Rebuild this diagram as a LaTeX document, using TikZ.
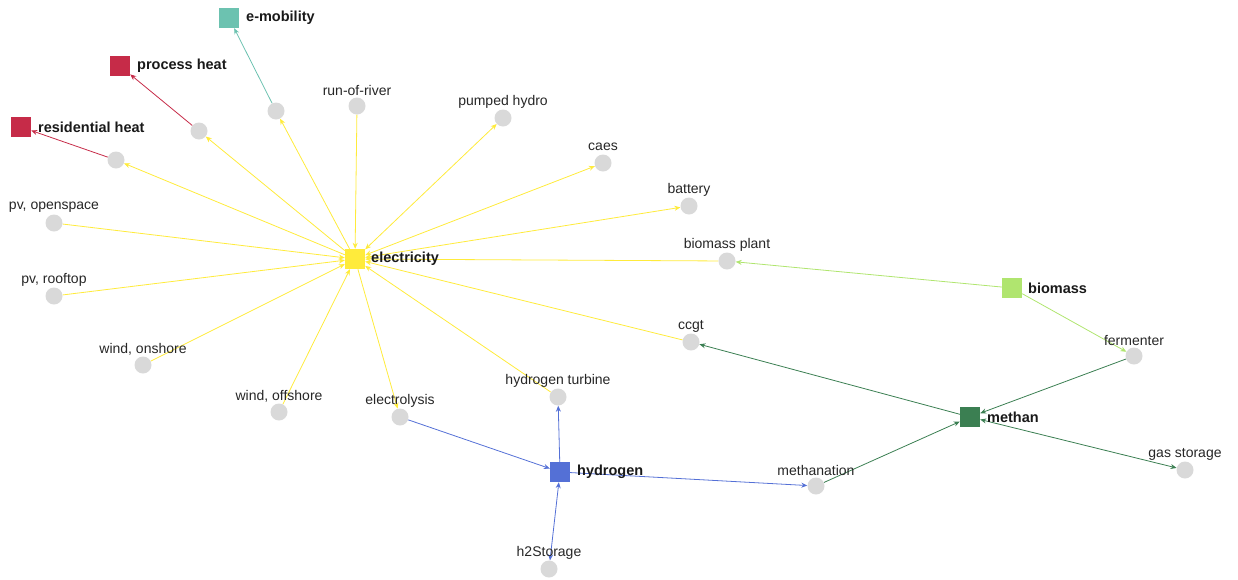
\documentclass[tikz,border=0pt]{standalone}
\usepackage{fontspec}
\setmainfont{Liberation Sans}
\usetikzlibrary{arrows.meta,backgrounds}
\definecolor{cyel}{HTML}{FFEB3B}
\definecolor{cred}{HTML}{C62B48}
\definecolor{cteal}{HTML}{6CC2B0}
\definecolor{clgreen}{HTML}{B0E56F}
\definecolor{cdgreen}{HTML}{3B7F52}
\definecolor{cblue}{HTML}{5470D6}
\definecolor{cgray}{HTML}{D9D9D9}
\tikzset{
  proc/.style={circle, fill=cgray, minimum size=17pt, inner sep=0pt},
  bus/.style={rectangle, minimum size=20pt, inner sep=0pt},
  lbl/.style={font=\fontsize{14}{14}\selectfont, text=black!85, inner sep=0pt},
  blbl/.style={font=\fontsize{14.5}{14.5}\selectfont\bfseries, text=black!90, anchor=west, inner sep=0pt},
  flow/.style={line width=0.8pt, -{Stealth[length=6pt,width=5pt]}},
  bflow/.style={line width=0.8pt, {Stealth[length=6pt,width=5pt]}-{Stealth[length=6pt,width=5pt]}},
}
\begin{document}
\begin{tikzpicture}[x=1pt,y=-1pt]
\useasboundingbox (0,0) rectangle (1238,579);

% buses
\node[bus, fill=cyel] (el) at (355,259) {};
\node[blbl] (el-l) at (371,259) {electricity};
\node[bus, fill=cteal] (emob) at (229,18) {};
\node[blbl] (emob-l) at (246,18) {e-mobility};
\node[bus, fill=cred] (ph) at (120,66) {};
\node[blbl] (ph-l) at (137,66) {process heat};
\node[bus, fill=cred] (rh) at (21,127) {};
\node[blbl] (rh-l) at (38,127) {residential heat};
\node[bus, fill=clgreen] (bio) at (1012,288) {};
\node[blbl] (bio-l) at (1028,288) {biomass};
\node[bus, fill=cdgreen] (meth) at (970,417) {};
\node[blbl] (meth-l) at (987,417) {methan};
\node[bus, fill=cblue] (h2) at (560,472) {};
\node[blbl] (h2-l) at (577,472) {hydrogen};

% components
\node[proc] (emobn) at (276,111) {};
\node[proc] (phn) at (199,131) {};
\node[proc] (rhn) at (116,160) {};
\node[proc] (ror) at (357,106) {};
\node[lbl] (ror-l) at (357,90) {run-of-river};
\node[proc] (phy) at (503,118) {};
\node[lbl] (phy-l) at (503,102) {pumped hydro};
\node[proc] (caes) at (603,163) {};
\node[lbl] (caes-l) at (603,147) {caes};
\node[proc] (bat) at (689,206) {};
\node[lbl] (bat-l) at (689,190) {battery};
\node[proc] (bp) at (727,261) {};
\node[lbl] (bp-l) at (727,245) {biomass plant};
\node[proc] (pvo) at (54,223) {};
\node[lbl] (pvo-l) at (54,207) {pv, openspace};
\node[proc] (pvr) at (54,296) {};
\node[lbl] (pvr-l) at (54,280) {pv, rooftop};
\node[proc] (won) at (143,365) {};
\node[lbl] (won-l) at (143,349) {wind, onshore};
\node[proc] (wof) at (279,412) {};
\node[lbl] (wof-l) at (279,396) {wind, offshore};
\node[proc] (ely) at (400,417) {};
\node[lbl] (ely-l) at (400,401) {electrolysis};
\node[proc] (h2t) at (558,397) {};
\node[lbl] (h2t-l) at (558,381) {hydrogen turbine};
\node[proc] (ccgt) at (691,342) {};
\node[lbl] (ccgt-l) at (691,326) {ccgt};
\node[proc] (ferm) at (1134,356) {};
\node[lbl] (ferm-l) at (1134,340) {fermenter};
\node[proc] (gas) at (1185,470) {};
\node[lbl] (gas-l) at (1185,454) {gas storage};
\node[proc] (mthn) at (816,486) {};
\node[lbl] (mthn-l) at (816,470) {methanation};
\node[proc] (h2s) at (549,569) {};
\node[lbl] (h2s-l) at (549,553) {h2Storage};

\begin{scope}[on background layer]
% electricity edges
\begin{scope}[color=cyel]
\draw[flow] (el) -- (emobn);
\draw[flow] (el) -- (phn);
\draw[flow] (el) -- (rhn);
\draw[flow] (ror) -- (el);
\draw[bflow] (el) -- (phy);
\draw[bflow] (el) -- (caes);
\draw[bflow] (el) -- (bat);
\draw[flow] (bp) -- (el);
\draw[flow] (pvo) -- (el);
\draw[flow] (pvr) -- (el);
\draw[flow] (won) -- (el);
\draw[flow] (wof) -- (el);
\draw[flow] (el) -- (ely);
\draw[flow] (h2t) -- (el);
\draw[flow] (ccgt) -- (el);
\end{scope}
% heat & mobility
\draw[flow, cteal] (emobn) -- (emob);
\draw[flow, cred] (phn) -- (ph);
\draw[flow, cred] (rhn) -- (rh);
% biomass
\draw[flow, clgreen] (bio) -- (bp);
\draw[flow, clgreen] (bio) -- (ferm);
% methan
\draw[flow, cdgreen] (ferm) -- (meth);
\draw[flow, cdgreen] (mthn) -- (meth);
\draw[flow, cdgreen] (meth) -- (ccgt);
\draw[bflow, cdgreen] (meth) -- (gas);
% hydrogen
\draw[flow, cblue] (ely) -- (h2);
\draw[flow, cblue] (h2) -- (h2t);
\draw[bflow, cblue] (h2) -- (h2s);
\draw[flow, cblue] (h2) -- (mthn);
\end{scope}
\end{tikzpicture}
\end{document}
